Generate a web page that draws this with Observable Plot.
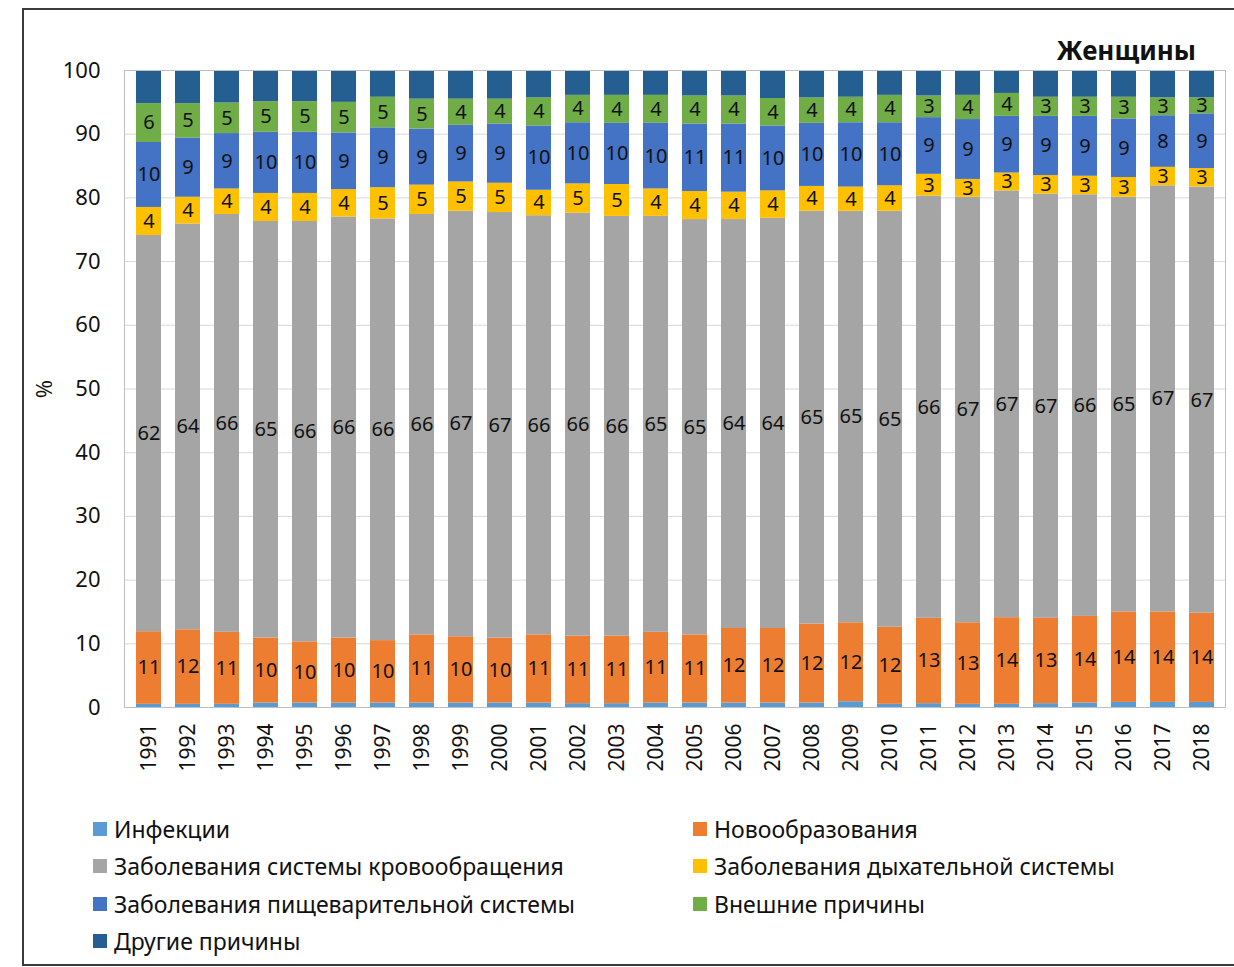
<!DOCTYPE html>
<html><head><meta charset="utf-8">
<script src="https://cdn.jsdelivr.net/npm/d3@7"></script>
<script src="https://cdn.jsdelivr.net/npm/@observablehq/plot@0.6"></script>
<style>
body{margin:0;background:#fff;font-family:"Noto Sans",sans-serif;}
#wrap{position:relative;width:1234px;height:967px;overflow:hidden;background:#fff;}
#border{position:absolute;left:22px;top:8px;width:1300px;height:958px;border:2px solid #3a3a3a;box-sizing:border-box;}
#title{position:absolute;right:38px;top:32px;font-weight:bold;font-size:26px;color:#111;}
#chart{position:absolute;left:0;top:0;}
.lg{position:absolute;display:flex;align-items:center;font-size:23px;color:#111;white-space:nowrap;}
.lg span.sw{display:inline-block;width:14px;height:14px;margin-right:7px;}
</style></head>
<body>
<div id="wrap"><div id="border"></div><div id="chart"></div><div id="title">Женщины</div></div>
<script>
const years = ["1991","1992","1993","1994","1995","1996","1997","1998","1999","2000","2001","2002","2003","2004","2005","2006","2007","2008","2009","2010","2011","2012","2013","2014","2015","2016","2017","2018"];
const causes = ["Инфекции","Новообразования","Заболевания системы кровообращения","Заболевания дыхательной системы","Заболевания пищеварительной системы","Внешние причины","Другие причины"];
const colors = ["#5B9BD5","#ED7D31","#A5A5A5","#FFC000","#4472C4","#70AD47","#255E91"];
const infections   = [0.5,0.5,0.5,0.7,0.7,0.7,0.7,0.7,0.7,0.7,0.7,0.6,0.6,0.7,0.7,0.7,0.7,0.7,0.9,0.5,0.6,0.5,0.5,0.6,0.7,0.8,0.8,0.8];
const neoplasms    = [11.4,11.7,11.3,10.2,9.6,10.2,9.8,10.7,10.4,10.2,10.7,10.6,10.6,11.1,10.7,11.7,11.7,12.4,12.4,12.1,13.4,12.8,13.6,13.4,13.6,14.2,14.2,14.0];
const circulatory  = [62.2,63.7,65.6,65.4,66.0,66.1,66.2,66.0,66.8,66.8,65.8,66.4,65.9,65.3,65.2,64.2,64.4,64.8,64.6,65.3,66.3,66.8,67.0,66.6,66.2,65.1,66.9,66.9];
const respiratory  = [4.4,4.2,4.0,4.4,4.4,4.3,4.9,4.6,4.6,4.6,4.0,4.6,5.0,4.3,4.4,4.3,4.3,3.9,3.8,4.0,3.4,2.8,2.8,2.9,2.9,3.1,2.9,2.9];
const digestive    = [10.2,9.3,8.7,9.6,9.6,8.9,9.4,8.8,8.9,9.3,10.1,9.6,9.6,10.3,10.6,10.7,10.2,9.9,10.1,9.9,8.9,9.4,8.9,9.3,9.4,9.2,8.1,8.6];
const external     = [6.1,5.4,4.8,4.8,4.8,4.8,4.8,4.7,4.1,3.9,4.4,4.3,4.4,4.4,4.4,4.4,4.3,4.0,4.0,4.3,3.4,3.8,3.6,3.0,3.0,3.4,2.8,2.5];
const other        = [5.2,5.2,5.1,4.9,4.9,5.0,4.2,4.5,4.5,4.5,4.3,3.9,3.9,3.9,4.0,4.0,4.4,4.3,4.2,3.9,4.0,3.9,3.6,4.2,4.2,4.2,4.3,4.3];
const yTicks = [0,10,20,30,40,50,60,70,80,90,100];
const labelled = [false,true,true,true,true,true,false];

const series = [infections,neoplasms,circulatory,respiratory,digestive,external,other];
const rows = [];
years.forEach((yr,i)=>series.forEach((s,k)=>rows.push({year:yr,cause:causes[k],value:s[i],show:labelled[k]})));

const chart = Plot.plot({
  width:1234, height:800,
  marginLeft:124, marginRight:9, marginTop:70, marginBottom:93,
  style:{fontFamily:"Noto Sans", fontSize:"22px", color:"#111", background:"transparent"},
  x:{type:"band", domain:years, paddingInner:0.36, paddingOuter:0.18, label:null},
  y:{domain:[0,100], label:"%"},
  color:{domain:causes, range:colors},
  marks:[
    Plot.gridY(yTicks,{stroke:"#d9d9d9", strokeOpacity:1}),
    Plot.barY(rows,{x:"year", y:"value", fill:"cause", order:causes}),
    Plot.text(rows, Plot.stackY({x:"year", y:"value", z:"cause", order:causes, text:d=>d.show?String(Math.round(d.value)):"", fontSize:20, fill:"#111"})),
    Plot.frame({stroke:"#bfbfbf"}),
    Plot.axisY({ticks:yTicks, tickSize:0, tickPadding:24, fontSize:22, label:"%", labelAnchor:"center", labelArrow:"none", labelOffset:88}),
    Plot.axisX({tickRotate:-90, tickSize:0, tickPadding:16, fontSize:21, label:null})
  ]
});
document.getElementById("chart").appendChild(chart);

const legendPos = [[93,829],[693,829],[93,866],[693,866],[93,904],[693,904],[93,941]];
const wrap = document.getElementById("wrap");
causes.forEach((c,k)=>{
  const d = document.createElement("div");
  d.className="lg";
  d.style.left = legendPos[k][0]+"px";
  d.style.top = (legendPos[k][1]-16)+"px";
  d.style.height="32px";
  d.innerHTML = `<span class="sw" style="background:${colors[k]}"></span>${c}`;
  wrap.appendChild(d);
});
</script>
</body></html>
